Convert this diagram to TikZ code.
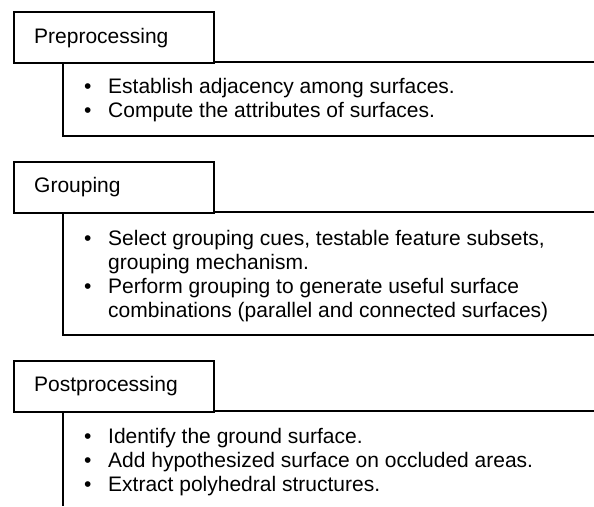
\documentclass[tikz,border=0pt]{standalone}
\usepackage{fontspec}
\setmainfont{Liberation Sans}
\begin{document}
\begin{tikzpicture}[x=1pt,y=-1pt,
  hdrbox/.style={draw=black,fill=white,line width=1.8pt,minimum width=200pt,minimum height=51pt,inner sep=0pt,anchor=north west},
  frame/.style={draw=black,line width=1.8pt},
  lbl/.style={anchor=base west,inner sep=0pt,font=\fontsize{21}{24}\selectfont},
  bul/.style={anchor=base west,inner sep=0pt,font=\fontsize{21}{24}\selectfont}]
\useasboundingbox (0,0) rectangle (594,506);
% Content frames
\draw[frame] (594,62) -- (63,62) -- (63,136) -- (594,136);
\draw[frame] (594,212) -- (63,212) -- (63,335) -- (594,335);
\draw[frame] (594,411) -- (63,411) -- (63,506);
% Headers
\node[hdrbox] (preH) at (13,11) {};
\node[hdrbox] (grpH) at (13,161) {};
\node[hdrbox] (posH) at (13,360) {};
\node[lbl] (preT) at (34,43) {Preprocessing};
\node[lbl] (grpT) at (34,192) {Grouping};
\node[lbl] (posT) at (34,391) {Postprocessing};
% Box 1
\node[bul] (b11) at (84,93) {•};
\node[lbl] (t11) at (108,93) {Establish adjacency among surfaces.};
\node[bul] (b12) at (84,117) {•};
\node[lbl] (t12) at (108,117) {Compute the attributes of surfaces.};
% Box 2
\node[bul] (b21) at (84,245) {•};
\node[lbl] (t21) at (108,245) {Select grouping cues, testable feature subsets,};
\node[lbl] (t21b) at (108,269) {grouping mechanism.};
\node[bul] (b22) at (84,293) {•};
\node[lbl] (t22) at (108,293) {Perform grouping to generate useful surface};
\node[lbl] (t22b) at (108,317) {combinations (parallel and connected surfaces)};
% Box 3
\node[bul] (b31) at (84,443) {•};
\node[lbl] (t31) at (108,443) {Identify the ground surface.};
\node[bul] (b32) at (84,467) {•};
\node[lbl] (t32) at (108,467) {Add hypothesized surface on occluded areas.};
\node[bul] (b33) at (84,491) {•};
\node[lbl] (t33) at (108,491) {Extract polyhedral structures.};
\end{tikzpicture}
\end{document}
